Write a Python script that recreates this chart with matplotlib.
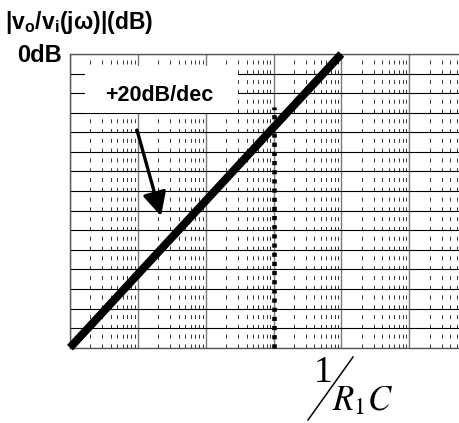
import matplotlib

matplotlib.use("Agg")
import matplotlib.pyplot as plt
import numpy as np
from matplotlib.lines import Line2D
from matplotlib.patches import Rectangle
from matplotlib.ticker import LogLocator, NullFormatter

plt.rcParams["font.family"] = ["Liberation Sans", "DejaVu Sans"]
plt.rcParams["mathtext.fontset"] = "custom"
plt.rcParams["mathtext.bf"] = "Liberation Sans:bold"
plt.rcParams["mathtext.rm"] = "Liberation Sans:bold"
plt.rcParams["lines.scale_dashes"] = False

# frequency in units of 1/(R1C), magnitude in dB
freq_decades = [1e-4, 1e-3, 1e-2, 1e-1, 1e0, 1e1, 1e2]
asym_freq = [1e-4, 1e0]
asym_db = [-80, 0]
corner_freq = 0.1
corner_db = [-80, -14.5]
db_grid = np.linspace(-80, 0, 16)

W, H = 460, 423
fig = plt.figure(figsize=(W / 100, H / 100), dpi=100)
# plot box: x 70..477 px (runs past the right edge), y 54..347.7 px
ax = fig.add_axes([70 / W, (H - 347.7) / H, 407 / W, 293.7 / H])
ax.set_xscale("log")
ax.set_xlim(freq_decades[0], freq_decades[-1])
ax.set_ylim(-80, 0)

ax.set_xticks(freq_decades)
ax.xaxis.set_minor_locator(LogLocator(base=10, subs=np.arange(2, 10)))
ax.xaxis.set_minor_formatter(NullFormatter())
ax.set_yticks(db_grid)
ax.tick_params(which="both", length=0, labelbottom=False, labelleft=False)

ax.grid(True, which="major", axis="x", color="#7a7a7a", linewidth=1.0)
ax.grid(True, which="major", axis="y", color="black", linewidth=0.8)
ax.grid(True, which="minor", axis="x", color="#333333", linewidth=0.7,
        linestyle=(0, (2.9, 4.15)))
for side in ["left", "top", "bottom"]:
    ax.spines[side].set_color("#555555")
    ax.spines[side].set_linewidth(1.0)
ax.spines["right"].set_visible(False)
ax.set_axisbelow(True)

# label box hiding part of the grid
ax.add_patch(Rectangle((0.037, 0.799), 0.376, 0.16, transform=ax.transAxes,
                       facecolor="white", edgecolor="none", zorder=2))
ax.text(0.22, 0.86, "+20dB/dec", transform=ax.transAxes, ha="center", va="center",
        fontsize=15.5, fontweight="bold", zorder=3)
ax.annotate("", xy=(0.2236, 0.448), xytext=(0.1646, 0.741),
            xycoords="axes fraction", textcoords="axes fraction",
            arrowprops=dict(arrowstyle="-|>,head_length=0.6,head_width=0.3",
                            lw=2.4, color="black",
                            mutation_scale=24, shrinkA=0, shrinkB=0),
            zorder=4)

ax.plot([corner_freq, corner_freq], corner_db, color="black", linewidth=3.3,
        linestyle=(0, (3.0, 3.6)), solid_capstyle="butt", dash_capstyle="butt",
        zorder=4, clip_on=False)
ax.plot(asym_freq, asym_db, color="black", linewidth=5.8, solid_capstyle="butt",
        zorder=5, clip_on=False)

fig.text(5 / W, 1 - 9 / H, r"$\mathbf{|v_o/v_i(jω)|(dB)}$", ha="left", va="top",
         fontsize=16.5)
fig.text(62 / W, 1 - 56 / H, "0dB", ha="right", va="center", fontsize=17,
         fontweight="bold")

# 1/(R1C) label below the 0 dB corner
fig.text(323 / W, 1 - 373 / H, "1", ha="center", va="center", fontsize=27,
         family="Liberation Serif")
fig.text(363 / W, 1 - 401 / H, r"$R_1C$", ha="center", va="center", fontsize=25,
         math_fontfamily="stix")
fig.add_artist(Line2D([308 / W, 353 / W], [1 - 420 / H, 1 - 357 / H],
                      transform=fig.transFigure, color="black", linewidth=1.1))

fig.savefig("out.png", dpi=100)
